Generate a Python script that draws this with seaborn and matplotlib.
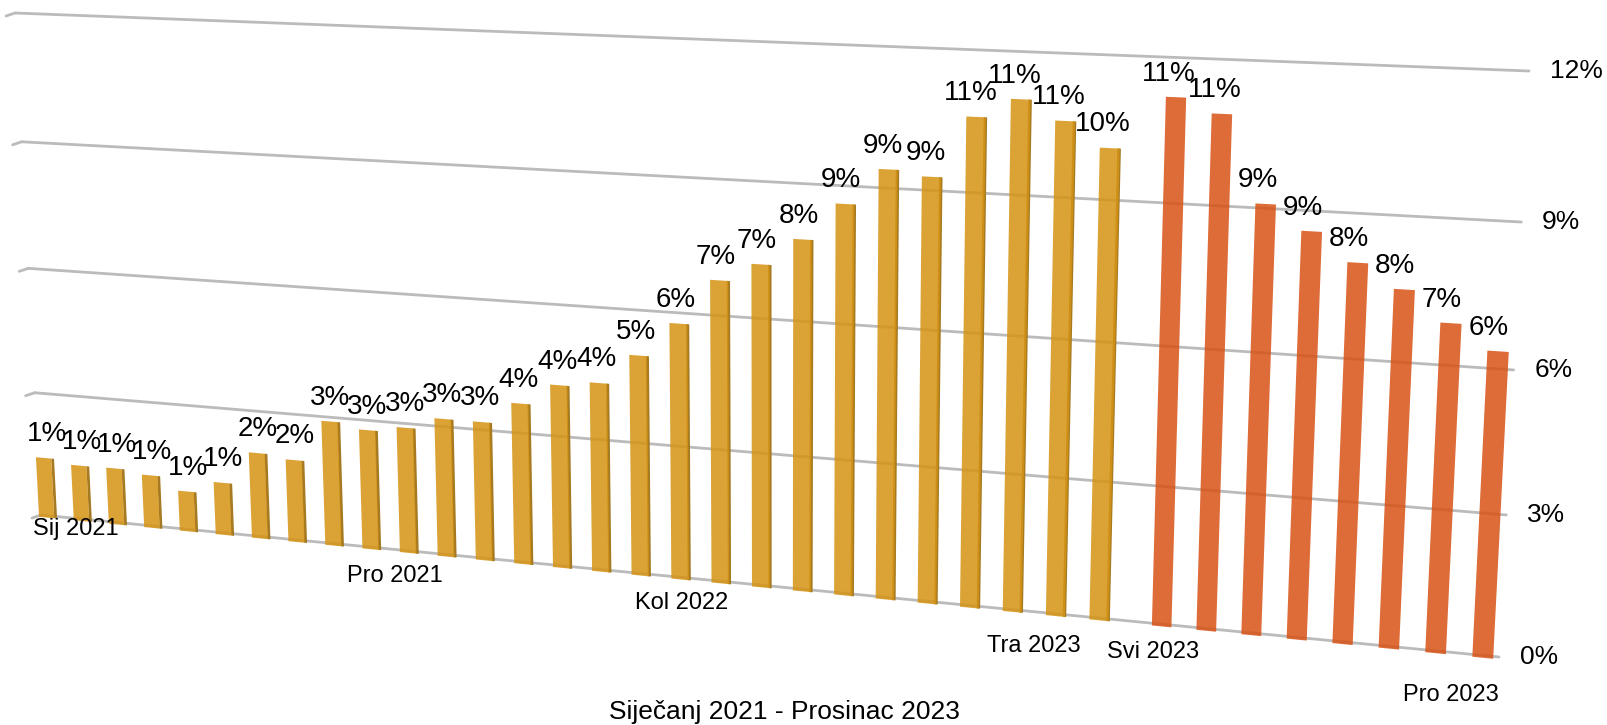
import numpy as np
import pandas as pd
import matplotlib
matplotlib.use("Agg")
import matplotlib.pyplot as plt
import matplotlib.transforms as mtrans
import seaborn as sns

# monthly values, Jan 2021 - Dec 2023
values = [1.42, 1.31, 1.32, 1.23, 0.92, 1.21, 2.00, 1.91, 2.90, 2.77, 2.90, 3.18,
          3.18, 3.68, 4.17, 4.29, 4.98, 5.76, 6.78, 7.19, 7.79, 8.61, 9.40, 9.29,
          10.60, 11.01, 10.60, 10.08, 11.19, 10.89, 9.09, 8.58, 7.99, 7.50, 6.87, 6.36]
value_labels = ["1%", "1%", "1%", "1%", "1%", "1%", "2%", "2%", "3%", "3%", "3%", "3%",
                "3%", "4%", "4%", "4%", "5%", "6%", "7%", "7%", "8%", "9%", "9%", "9%",
                "11%", "11%", "11%", "10%", "11%", "11%", "9%", "9%", "8%", "8%", "7%", "6%"]
period = ["old"] * 28 + ["new"] * 8
y_ticks = [0, 3, 6, 9, 12]
y_labels = ["0%", "3%", "6%", "9%", "12%"]
month_labels = ["Sij 2021", "Pro 2021", "Kol 2022", "Tra 2023", "Svi 2023", "Pro 2023"]
x_title = "Siječanj 2021 - Prosinac 2023"

# layout, in pixels of the picture
month_xy = [(76, 529), (395, 576), (682, 603), (1034, 646), (1153, 652), (1451, 695)]
corners = [(41, 515), (1499, 657), (1529, 71), (15, 13)]
GAP = 0.42

pos = np.arange(len(values)) + GAP * (np.arange(len(values)) >= 28)
x0, x1 = -0.16, pos[-1] + 0.34


def homography(src, dst):
    rows, rhs = [], []
    for (u, v), (X, Y) in zip(src, dst):
        rows.append([u, v, 1, 0, 0, 0, -u * X, -v * X])
        rows.append([0, 0, 0, u, v, 1, -u * Y, -v * Y])
        rhs += [X, Y]
    return np.append(np.linalg.solve(np.array(rows, float), np.array(rhs, float)), 1).reshape(3, 3)


class Tilt(mtrans.Transform):
    input_dims = output_dims = 2

    def __init__(self, H):
        super().__init__()
        self.H = H

    def transform_non_affine(self, xy):
        xy = np.asarray(xy, float)
        p = np.c_[xy, np.ones(len(xy))] @ self.H.T
        return p[:, :2] / p[:, [2]]


H = homography([(x0, 0), (x1, 0), (x1, 12), (x0, 12)], corners)
tilt = Tilt(H)

sns.set_theme(style="white")
plt.rcParams["font.family"] = ["Liberation Sans", "DejaVu Sans"]

df = pd.DataFrame({"pos": pos, "value": values, "period": period})
side = df[df["period"] == "old"].copy()
SIDE_W = 0.08
side["pos"] = side["pos"] + 0.22 + SIDE_W / 2 - SIDE_W * side["pos"] / 40

fig = plt.figure(figsize=(16.08, 7.25), dpi=100)
ax = fig.add_axes([0, 0, 1, 1])

sns.barplot(data=side, x="pos", y="value", native_scale=True, width=SIDE_W,
            color="#A67A22", saturation=1, ax=ax, zorder=2)
sns.barplot(data=df, x="pos", y="value", hue="period", dodge=False, native_scale=True,
            width=0.44, palette={"old": "#D59313", "new": "#D75215"}, saturation=1,
            alpha=0.85, legend=False, ax=ax, zorder=3)

ax.set_xlim(0, 1608)
ax.set_ylim(725, 0)
ax.set_axis_off()

data_tr = tilt + ax.transData
for p in ax.patches:
    p.set_transform(data_tr)
    p.set_linewidth(0)
    p.set_clip_on(False)
    # bars stand a little in front of the floor line
    p.set_height(p.get_height() + 0.05)
    p.set_y(-0.05)

# gridlines with the little return at the left wall
for v, lab in zip(y_ticks, y_labels):
    ax.plot([x0, x1], [v, v], color="#BBBBBB", lw=2, transform=data_tr, zorder=1,
            solid_capstyle="round")
    left = tilt.transform(np.array([[x0, v]]))[0]
    ax.plot([left[0] - 9, left[0]], [left[1] + 3, left[1]], color="#BBBBBB", lw=2, zorder=1)
    ax.annotate(lab, xy=(x1, v), xycoords=data_tr, xytext=(15, 0), textcoords="offset points",
                ha="left", va="center", fontsize=19, color="black")

# value labels
for x, v, lab in zip(pos, values, value_labels):
    ax.annotate(lab, xy=(x, v), xycoords=data_tr, xytext=(2.5 - 0.27 * x, 17),
                textcoords="offset points", ha="center", va="center",
                fontsize=20, color="black", zorder=5)

for lab, (mx, my) in zip(month_labels, month_xy):
    ax.text(mx, my, lab, ha="center", va="center", fontsize=17, color="black", zorder=5)

ax.text(784, 712, x_title, ha="center", va="center", fontsize=19, color="black")

fig.savefig("out.png", dpi=100)
